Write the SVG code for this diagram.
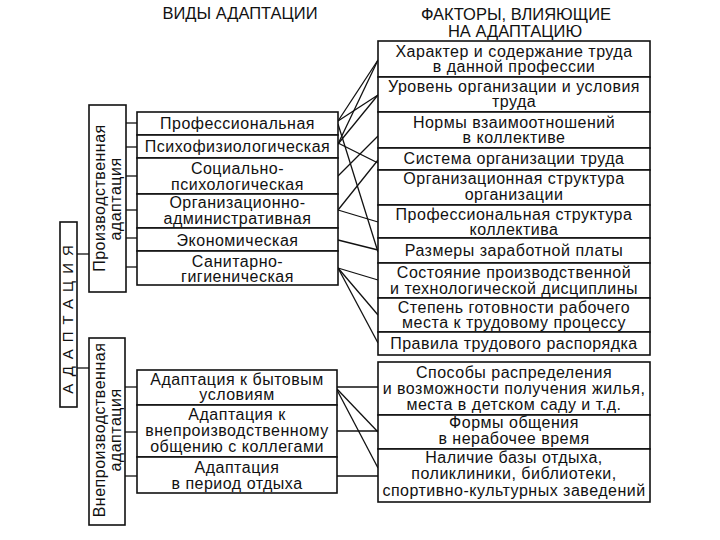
<svg xmlns="http://www.w3.org/2000/svg" width="720" height="540" viewBox="0 0 720 540">
<style>
.box{fill:#fff;stroke:#111;stroke-width:1.6}
.t{font-family:"Liberation Sans",Arial,sans-serif;font-size:16px;letter-spacing:0.5px;fill:#111;text-anchor:middle}
.h{font-family:"Liberation Sans",Arial,sans-serif;font-size:16.5px;fill:#111;text-anchor:middle}
.c{stroke:#111;stroke-width:1.3;fill:none}
</style>
<rect width="720" height="540" fill="#fff"/>
<g id="titles">
<text class="h" x="240" y="19">ВИДЫ АДАПТАЦИИ</text>
<text class="h" x="516" y="20">ФАКТОРЫ, ВЛИЯЮЩИЕ</text>
<text class="h" x="515" y="37">НА АДАПТАЦИЮ</text>
</g>
<g id="connectors">
<line class="c" x1="77" y1="254" x2="89" y2="254"/>
<line class="c" x1="77" y1="368" x2="89" y2="368"/>
<line class="c" x1="126" y1="123" x2="137" y2="123"/>
<line class="c" x1="126" y1="147" x2="137" y2="147"/>
<line class="c" x1="126" y1="176" x2="137" y2="176"/>
<line class="c" x1="126" y1="210" x2="137" y2="210"/>
<line class="c" x1="126" y1="238" x2="137" y2="238"/>
<line class="c" x1="126" y1="267" x2="137" y2="267"/>
<line class="c" x1="125" y1="387" x2="137" y2="387"/>
<line class="c" x1="125" y1="432" x2="137" y2="432"/>
<line class="c" x1="125" y1="476" x2="137" y2="476"/>
<line class="c" x1="338" y1="121" x2="378" y2="60"/>
<line class="c" x1="338" y1="121" x2="378" y2="95"/>
<line class="c" x1="338" y1="144" x2="378" y2="60"/>
<line class="c" x1="338" y1="144" x2="378" y2="95"/>
<line class="c" x1="338" y1="143" x2="378" y2="163"/>
<line class="c" x1="338" y1="124" x2="378" y2="252"/>
<line class="c" x1="338" y1="176" x2="378" y2="136"/>
<line class="c" x1="338" y1="210" x2="378" y2="160"/>
<line class="c" x1="338" y1="210" x2="378" y2="222"/>
<line class="c" x1="338" y1="240" x2="378" y2="250"/>
<line class="c" x1="338" y1="268" x2="378" y2="280"/>
<line class="c" x1="338" y1="268" x2="378" y2="315"/>
<line class="c" x1="338" y1="268" x2="378" y2="343"/>
<line class="c" x1="337" y1="387" x2="378" y2="387"/>
<line class="c" x1="337" y1="389" x2="378" y2="432"/>
<line class="c" x1="337" y1="390" x2="378" y2="468"/>
<line class="c" x1="337" y1="431" x2="378" y2="431" stroke-width="2"/>
<line class="c" x1="337" y1="476" x2="378" y2="476"/>
</g>
<g id="adaptation">
<rect class="box" x="60" y="222" width="17" height="185"/>
<text class="t" transform="translate(73,316) rotate(-90)" style="font-size:15px;letter-spacing:7px">АДАПТАЦИЯ</text>
</g>
<g id="prod">
<rect class="box" x="89" y="105" width="37" height="187"/>
<text class="t" transform="translate(105,198) rotate(-90)">Производственная</text>
<text class="t" transform="translate(121,199) rotate(-90)">адаптация</text>
</g>
<g id="nonprod">
<rect class="box" x="89" y="338" width="36" height="187"/>
<text class="t" transform="translate(105,430) rotate(-90)" style="font-size:16px">Внепроизводственная</text>
<text class="t" transform="translate(121,430) rotate(-90)">адаптация</text>
</g>
<g id="m1"><rect class="box" x="137" y="112" width="201" height="23"/><text class="t" x="237.5" y="129">Профессиональная</text></g>
<g id="m2"><rect class="box" x="137" y="135" width="201" height="23"/><text class="t" x="237.5" y="152">Психофизиологическая</text></g>
<g id="m3"><rect class="box" x="137" y="158" width="201" height="36"/><text class="t" x="237.5" y="174">Социально-</text><text class="t" x="237.5" y="190">психологическая</text></g>
<g id="m4"><rect class="box" x="137" y="194" width="201" height="34"/><text class="t" x="237.5" y="208">Организационно-</text><text class="t" x="237.5" y="224">административная</text></g>
<g id="m5"><rect class="box" x="137" y="228" width="201" height="23"/><text class="t" x="237.5" y="246">Экономическая</text></g>
<g id="m6"><rect class="box" x="137" y="251" width="201" height="34"/><text class="t" x="237.5" y="267">Санитарно-</text><text class="t" x="237.5" y="282">гигиеническая</text></g>
<g id="m7"><rect class="box" x="137" y="370" width="200" height="35"/><text class="t" x="237" y="385">Адаптация к бытовым</text><text class="t" x="237" y="400">условиям</text></g>
<g id="m8"><rect class="box" x="137" y="405" width="200" height="52"/><text class="t" x="237" y="420">Адаптация к</text><text class="t" x="237" y="436">внепроизводственному</text><text class="t" x="237" y="452">общению с коллегами</text></g>
<g id="m9"><rect class="box" x="137" y="457" width="200" height="36"/><text class="t" x="237" y="473">Адаптация</text><text class="t" x="237" y="489">в период отдыха</text></g>
<g id="f1"><rect class="box" x="378" y="41" width="272" height="36"/><text class="t" x="514" y="57">Характер и содержание труда</text><text class="t" x="514" y="72">в данной профессии</text></g>
<g id="f2"><rect class="box" x="378" y="77" width="272" height="35"/><text class="t" x="514" y="92">Уровень организации и условия</text><text class="t" x="514" y="107">труда</text></g>
<g id="f3"><rect class="box" x="378" y="112" width="272" height="36"/><text class="t" x="514" y="128">Нормы взаимоотношений</text><text class="t" x="514" y="143">в коллективе</text></g>
<g id="f4"><rect class="box" x="378" y="148" width="272" height="22"/><text class="t" x="514" y="164">Система организации труда</text></g>
<g id="f5"><rect class="box" x="378" y="170" width="272" height="35"/><text class="t" x="514" y="184">Организационная структура</text><text class="t" x="514" y="200">организации</text></g>
<g id="f6"><rect class="box" x="378" y="205" width="272" height="33"/><text class="t" x="514" y="220">Профессиональная структура</text><text class="t" x="514" y="235">коллектива</text></g>
<g id="f7"><rect class="box" x="378" y="238" width="272" height="25"/><text class="t" x="514" y="256">Размеры заработной платы</text></g>
<g id="f8"><rect class="box" x="378" y="263" width="272" height="35"/><text class="t" x="514" y="278">Состояние производственной</text><text class="t" x="514" y="294">и технологической дисциплины</text></g>
<g id="f9"><rect class="box" x="378" y="298" width="272" height="34"/><text class="t" x="514" y="313">Степень готовности рабочего</text><text class="t" x="514" y="328">места к трудовому процессу</text></g>
<g id="f10"><rect class="box" x="378" y="332" width="272" height="23"/><text class="t" x="514" y="349">Правила трудового распорядка</text></g>
<g id="f11"><rect class="box" x="378" y="362" width="272" height="53"/><text class="t" x="514" y="378">Способы распределения</text><text class="t" x="514" y="394">и возможности получения жилья,</text><text class="t" x="514" y="410">места в детском саду и т.д.</text></g>
<g id="f12"><rect class="box" x="378" y="415" width="272" height="34"/><text class="t" x="514" y="428">Формы общения</text><text class="t" x="514" y="444">в нерабочее время</text></g>
<g id="f13"><rect class="box" x="378" y="449" width="272" height="53"/><text class="t" x="514" y="463">Наличие базы отдыха,</text><text class="t" x="514" y="479">поликлиники, библиотеки,</text><text class="t" x="514" y="496">спортивно-культурных заведений</text></g>
</svg>
